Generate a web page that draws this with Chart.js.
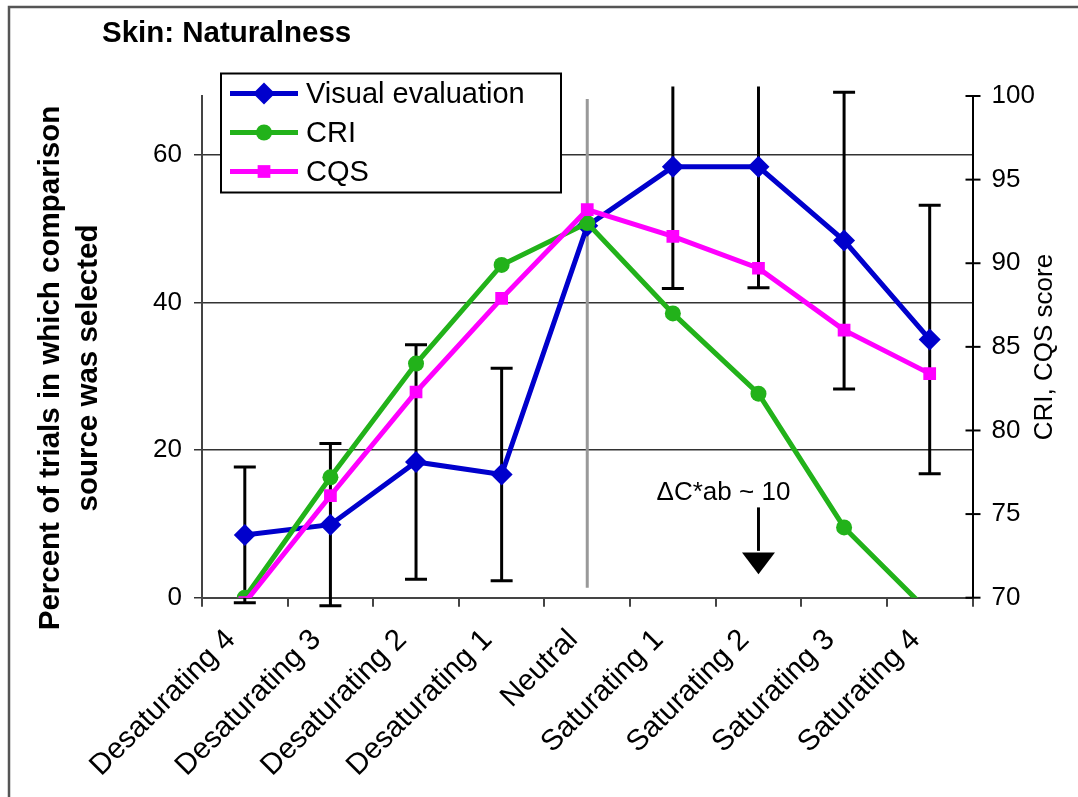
<!DOCTYPE html>
<html>
<head>
<meta charset="utf-8">
<title>Skin: Naturalness</title>
<script src="https://cdn.jsdelivr.net/npm/chart.js@4.4.1/dist/chart.umd.min.js"></script>
<style>
  html, body { margin: 0; padding: 0; background: #fff; }
  #wrap { width: 1078px; height: 797px; }
</style>
</head>
<body>
<div id="wrap"><canvas id="chart" width="1078" height="797"></canvas></div>
<script>
// categories along the x axis
const categories = ['Desaturating 4', 'Desaturating 3', 'Desaturating 2', 'Desaturating 1',
  'Neutral', 'Saturating 1', 'Saturating 2', 'Saturating 3', 'Saturating 4'];

// percent of trials (left axis) and its +/- error
const visual = [8.5, 9.9, 18.4, 16.7, 50.4, 58.4, 58.4, 48.4, 35.0];
const visualErr = [9.2, 11.0, 15.9, 14.4, null, 16.5, 16.4, 20.1, 18.2];

// colour metric scores (right axis)
const cri = [70.0, 77.2, 84.0, 89.9, 92.4, 87.0, 82.2, 74.2, 69.1];
const cqs = [69.7, 76.1, 82.3, 87.9, 93.2, 91.6, 89.7, 86.0, 83.4];

const leftTicks = [0, 20, 40, 60];
const rightTicks = [70, 75, 80, 85, 90, 95, 100];

const FONT = '"Liberation Sans", Arial, Helvetica, sans-serif';

// error bars and the neutral divider, drawn under the lines
const underlay = {
  id: 'underlay',
  beforeDatasetsDraw(chart) {
    const { ctx, chartArea, scales } = chart;
    const x = scales.x, y = scales.y;

    // grey divider at the neutral position
    const nx = x.getPixelForValue(4);
    ctx.save();
    ctx.strokeStyle = '#999';
    ctx.lineWidth = 3;
    ctx.beginPath();
    ctx.moveTo(nx, chartArea.top + 3);
    ctx.lineTo(nx, chartArea.bottom - 10);
    ctx.stroke();
    ctx.restore();

    ctx.save();
    ctx.beginPath();
    ctx.rect(0, chartArea.top - 9.5, chart.width, chart.height);
    ctx.clip();
    ctx.strokeStyle = '#000';
    ctx.lineWidth = 3;
    visual.forEach((v, i) => {
      const e = visualErr[i];
      if (e == null) return;
      const px = x.getPixelForValue(i);
      const top = y.getPixelForValue(v + e);
      const bot = y.getPixelForValue(v - e);
      ctx.beginPath();
      ctx.moveTo(px, top); ctx.lineTo(px, bot);
      ctx.moveTo(px - 11, top); ctx.lineTo(px + 11, top);
      ctx.moveTo(px - 11, bot); ctx.lineTo(px + 11, bot);
      ctx.stroke();
    });
    ctx.restore();
  }
};

// frame, titles, legend, right-axis ticks and the annotation
const overlay = {
  id: 'overlay',
  afterDraw(chart) {
    const { ctx, chartArea, scales } = chart;
    ctx.save();

    // outer frame
    ctx.strokeStyle = '#555';
    ctx.lineWidth = 2.5;
    ctx.beginPath();
    ctx.moveTo(9, chart.height);
    ctx.lineTo(9, 7);
    ctx.lineTo(chart.width, 7);
    ctx.stroke();

    // chart title
    ctx.fillStyle = '#000';
    ctx.textAlign = 'left';
    ctx.textBaseline = 'alphabetic';
    ctx.font = 'bold 29.5px ' + FONT;
    ctx.fillText('Skin: Naturalness', 102, 42);

    // left axis title
    ctx.save();
    ctx.translate(70, 368);
    ctx.rotate(-Math.PI / 2);
    ctx.textAlign = 'center';
    ctx.textBaseline = 'middle';
    ctx.font = 'bold 29.5px ' + FONT;
    ctx.fillText('Percent of trials in which comparison', 0, -19);
    ctx.fillText('source was selected', 0, 19);
    ctx.restore();

    // right axis title
    ctx.save();
    ctx.translate(1045, 347);
    ctx.rotate(-Math.PI / 2);
    ctx.textAlign = 'center';
    ctx.textBaseline = 'middle';
    ctx.font = '26px ' + FONT;
    ctx.fillText('CRI, CQS score', 0, 0);
    ctx.restore();

    // right axis tick marks cross the axis line
    const y1 = scales.y1;
    ctx.strokeStyle = '#000';
    ctx.lineWidth = 2;
    y1.ticks.forEach(t => {
      const py = y1.getPixelForValue(t.value);
      ctx.beginPath();
      ctx.moveTo(y1.left - 7, py);
      ctx.lineTo(y1.left + 8, py);
      ctx.stroke();
    });

    // annotation with arrow over Saturating 2
    const ax = scales.x.getPixelForValue(6);
    ctx.font = '26px ' + FONT;
    ctx.textAlign = 'center';
    ctx.textBaseline = 'alphabetic';
    ctx.fillStyle = '#000';
    ctx.fillText('\u0394C*ab ~ 10', ax - 35, y1.getPixelForValue(75.85));
    ctx.lineWidth = 3;
    ctx.beginPath();
    ctx.moveTo(ax, y1.getPixelForValue(75.4));
    ctx.lineTo(ax, y1.getPixelForValue(72.8));
    ctx.stroke();
    ctx.beginPath();
    ctx.moveTo(ax - 16.5, y1.getPixelForValue(72.7));
    ctx.lineTo(ax + 16.5, y1.getPixelForValue(72.7));
    ctx.lineTo(ax, y1.getPixelForValue(71.4));
    ctx.closePath();
    ctx.fill();

    // legend box
    const lx = 221, ly = 73.5, lw = 340, lh = 119;
    ctx.fillStyle = '#fff';
    ctx.fillRect(lx, ly, lw, lh);
    ctx.strokeStyle = '#000';
    ctx.lineWidth = 2;
    ctx.strokeRect(lx, ly, lw, lh);
    ctx.font = '29px ' + FONT;
    ctx.textAlign = 'left';
    ctx.textBaseline = 'middle';
    chart.data.datasets.forEach((ds, i) => {
      const ry = ly + 20 + i * 39;
      ctx.strokeStyle = ds.borderColor;
      ctx.lineWidth = 5;
      ctx.beginPath();
      ctx.moveTo(lx + 9, ry);
      ctx.lineTo(lx + 77, ry);
      ctx.stroke();
      ctx.fillStyle = ds.backgroundColor;
      Chart.helpers.drawPoint(ctx, { pointStyle: ds.pointStyle, radius: ds.pointRadius, rotation: 0, borderWidth: 0 }, lx + 43, ry);
      ctx.fillStyle = '#000';
      ctx.fillText(ds.label, lx + 85, ry + 1);
    });

    ctx.restore();
  }
};

new Chart(document.getElementById('chart'), {
  type: 'line',
  data: {
    labels: categories,
    datasets: [
      {
        label: 'Visual evaluation', data: visual, yAxisID: 'y', order: 3,
        borderColor: '#0000cc', backgroundColor: '#0000cc', borderWidth: 5,
        pointStyle: 'rectRot', pointRadius: 11, pointBorderWidth: 0
      },
      {
        label: 'CRI', data: cri, yAxisID: 'y1', order: 2,
        borderColor: '#22b21a', backgroundColor: '#22b21a', borderWidth: 5,
        pointStyle: 'circle', pointRadius: 8, pointBorderWidth: 0
      },
      {
        label: 'CQS', data: cqs, yAxisID: 'y1', order: 1,
        borderColor: '#ff00ff', backgroundColor: '#ff00ff', borderWidth: 5,
        pointStyle: 'rect', pointRadius: 9, pointBorderWidth: 0
      }
    ]
  },
  options: {
    responsive: false,
    animation: false,
    devicePixelRatio: 1,
    layout: { padding: { top: 96, left: 0, right: 0, bottom: 0 } },
    plugins: { legend: { display: false }, title: { display: false }, tooltip: { enabled: false } },
    elements: { line: { tension: 0 } },
    scales: {
      x: {
        type: 'category',
        offset: true,
        grid: { offset: true, drawOnChartArea: false, drawTicks: true, tickLength: 9, color: '#444', lineWidth: 2 },
        border: { display: true, color: '#444', width: 2 },
        ticks: {
          autoSkip: false, minRotation: 45, maxRotation: 45, padding: 16, labelOffset: -14,
          color: '#000', font: { family: FONT, size: 29.5 }
        },
        afterFit(s) { s.height = 199.3; }
      },
      y: {
        position: 'left',
        min: 0, max: 68,
        afterBuildTicks(s) { s.ticks = leftTicks.map(v => ({ value: v })); },
        grid: { color: '#333', lineWidth: 1.5, tickLength: 8 },
        border: { display: true, color: '#444', width: 2 },
        ticks: { padding: 12, color: '#000', font: { family: FONT, size: 26 } },
        afterFit(s) { s.width = 202; }
      },
      y1: {
        position: 'right',
        min: 70, max: 100,
        afterBuildTicks(s) { s.ticks = rightTicks.map(v => ({ value: v })); },
        grid: { display: false, drawTicks: true, tickLength: 8 },
        border: { display: true, color: '#000', width: 2 },
        ticks: { padding: 11, color: '#000', font: { family: FONT, size: 26 } },
        afterFit(s) { s.width = 105.5; }
      }
    }
  },
  plugins: [underlay, overlay]
});
</script>
</body>
</html>
